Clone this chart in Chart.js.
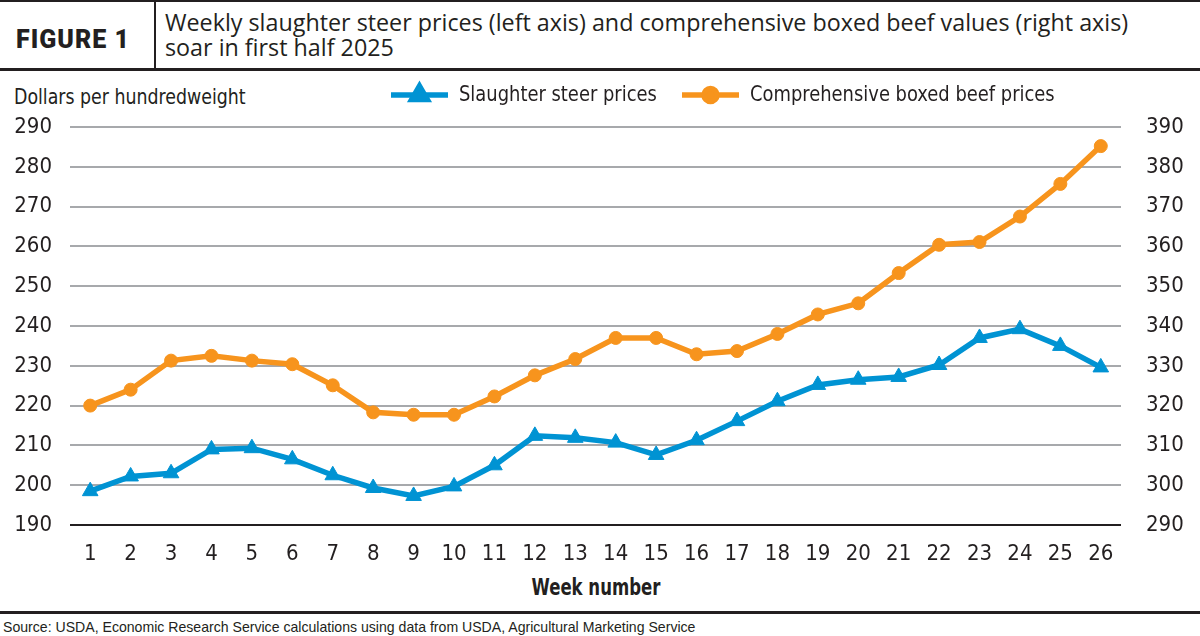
<!DOCTYPE html>
<html>
<head>
<meta charset="utf-8">
<script src="https://cdn.jsdelivr.net/npm/chart.js@4"></script>
<style>
  html, body { margin: 0; padding: 0; background: #fff; }
  body { width: 1200px; height: 636px; position: relative; overflow: hidden; color: #231f20; }
  .rule-top { position: absolute; left: 0; top: 0; width: 1200px; height: 2px; background: #231f20; }
  .rule-head { position: absolute; left: 0; top: 68px; width: 1200px; height: 3px; background: #231f20; }
  .divider { position: absolute; left: 154px; top: 2px; width: 2px; height: 66px; background: #231f20; }
  .fig { position: absolute; left: 16px; top: 25px; font: 900 25px Roboto, sans-serif; letter-spacing: 1px; }
  .title { position: absolute; left: 165px; top: 10px; font: 23.3px "Open Sans", sans-serif; line-height: 25px; }
  .unit { position: absolute; left: 14px; top: 85px; font: 21px "DejaVu Sans Condensed", sans-serif; transform: scaleX(0.92); transform-origin: left center; }
  .xtitle { position: absolute; left: 0; width: 1192px; text-align: center; top: 574px; font: bold 23px "DejaVu Sans Condensed", sans-serif; transform: scaleX(0.8); transform-origin: 596px center; }
  .rule-foot { position: absolute; left: 0; top: 611px; width: 1200px; height: 3px; background: #231f20; }
  .source { position: absolute; left: 3px; top: 619px; font: 14.1px "Liberation Sans", Arial, sans-serif; }
  #wrap { position: absolute; left: 0; top: 72px; width: 1200px; height: 500px; }
</style>
</head>
<body>
<div class="rule-top"></div>
<div class="divider"></div>
<div class="fig">FIGURE 1</div>
<div class="title">Weekly slaughter steer prices (left axis) and comprehensive boxed beef values (right axis)<br>soar in first half 2025</div>
<div class="rule-head"></div>
<div class="unit">Dollars per hundredweight</div>
<div id="wrap"><canvas id="myChart" width="1200" height="500"></canvas></div>
<div class="xtitle">Week number</div>
<div class="rule-foot"></div>
<div class="source">Source: USDA, Economic Research Service calculations using data from USDA, Agricultural Marketing Service</div>

<script>
// week labels along the bottom
const weeks = ['1','2','3','4','5','6','7','8','9','10','11','12','13','14','15','16','17','18','19','20','21','22','23','24','25','26'];

// slaughter steer prices, left axis ($/cwt)
const steerPrices = [198.5, 202.2, 203.0, 209.0, 209.3, 206.5, 202.5, 199.3, 197.3, 199.7, 205.0, 212.4, 211.9,
  210.7, 207.6, 211.3, 216.1, 221.1, 225.2, 226.5, 227.2, 230.2, 237.0, 239.2, 235.0, 229.6];

// comprehensive boxed beef values, right axis ($/cwt)
const boxedBeef = [320.0, 324.0, 331.3, 332.5, 331.3, 330.4, 325.1, 318.3, 317.7, 317.7, 322.3, 327.6, 331.7,
  337.0, 337.0, 332.9, 333.7, 338.0, 342.9, 345.7, 353.3, 360.4, 361.1, 367.5, 375.7, 385.2];

const seriesNames = ['Slaughter steer prices', 'Comprehensive boxed beef prices'];

const BLUE = '#0093d3';
const ORANGE = '#f7941d';
const INK = '#231f20';
const NARROW = '"DejaVu Sans Condensed", sans-serif';

// legend drawn as line + marker, like the printed figure
const lineLegend = {
  id: 'lineLegend',
  afterDraw(chart, args, opts) {
    const ctx = chart.ctx;
    chart.data.datasets.forEach((ds, i) => {
      const spot = opts.spots[i];
      ctx.save();
      ctx.strokeStyle = ds.borderColor;
      ctx.lineWidth = ds.borderWidth;
      ctx.beginPath();
      ctx.moveTo(spot.x1, opts.y);
      ctx.lineTo(spot.x2, opts.y);
      ctx.stroke();
      ctx.fillStyle = ds.pointBackgroundColor;
      ctx.strokeStyle = ds.pointBorderColor;
      Chart.helpers.drawPoint(ctx, {
        pointStyle: ds.pointStyle, radius: ds.pointRadius, borderWidth: ds.pointBorderWidth, rotation: 0
      }, (spot.x1 + spot.x2) / 2, opts.y);
      // squeeze the text a bit, the print uses a condensed face
      ctx.translate(spot.x2 + 11, opts.y);
      ctx.scale(0.905, 1);
      ctx.fillStyle = INK;
      ctx.font = '22px ' + NARROW;
      ctx.textBaseline = 'middle';
      ctx.fillText(ds.label, 0, 0);
      ctx.restore();
    });
  }
};

const ctx = document.getElementById('myChart').getContext('2d');
const chart = new Chart(ctx, {
  type: 'line',
  data: {
    labels: weeks,
    datasets: [
      {
        label: seriesNames[0],
        data: steerPrices,
        yAxisID: 'yLeft',
        borderColor: BLUE,
        backgroundColor: BLUE,
        borderWidth: 5.5,
        pointStyle: 'triangle',
        pointRadius: 9,
        pointBorderWidth: 1,
        pointBackgroundColor: BLUE,
        pointBorderColor: BLUE,
        tension: 0
      },
      {
        label: seriesNames[1],
        data: boxedBeef,
        yAxisID: 'yRight',
        borderColor: ORANGE,
        backgroundColor: ORANGE,
        borderWidth: 5.5,
        pointStyle: 'circle',
        pointRadius: 6.5,
        pointBorderWidth: 1,
        pointBackgroundColor: ORANGE,
        pointBorderColor: ORANGE,
        tension: 0
      }
    ]
  },
  options: {
    responsive: false,
    animation: false,
    layout: { padding: { top: 55, left: 0, right: 0, bottom: 0 } },
    plugins: {
      legend: { display: false },
      tooltip: { enabled: false },
      lineLegend: {
        y: 23,
        spots: [ { x1: 391, x2: 448 }, { x1: 682, x2: 739 } ]
      }
    },
    scales: {
      x: {
        offset: true,
        grid: { display: false, drawTicks: false },
        border: { display: false },
        ticks: { color: INK, font: { family: NARROW, size: 22 }, padding: 16, maxRotation: 0, autoSkip: false },
        afterFit(scale) { scale.height = 47; }
      },
      yLeft: {
        position: 'left',
        min: 190,
        max: 290,
        grid: {
          drawTicks: false,
          lineWidth: 2,
          color: c => c.tick && c.tick.value === 190 ? INK : '#a7a9ac'
        },
        border: { display: false },
        ticks: { stepSize: 10, color: INK, font: { family: NARROW, size: 22 }, padding: 18 },
        afterFit(scale) { scale.width = 70; }
      },
      yRight: {
        position: 'right',
        min: 290,
        max: 390,
        grid: { display: false, drawTicks: false },
        border: { display: false },
        ticks: { stepSize: 10, color: INK, font: { family: NARROW, size: 22 }, padding: 25 },
        afterFit(scale) { scale.width = 79; }
      }
    }
  },
  plugins: [lineLegend]
});
</script>
</body>
</html>
